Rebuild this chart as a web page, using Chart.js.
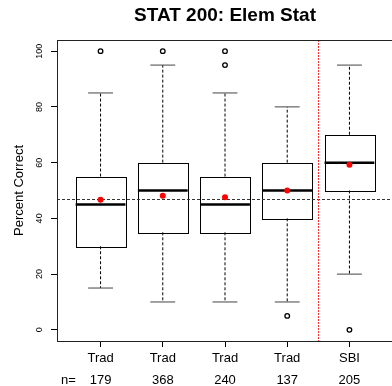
<!DOCTYPE html>
<html>
<head>
<meta charset="utf-8">
<script src="https://cdn.jsdelivr.net/npm/chart.js@4.4.1/dist/chart.umd.min.js"></script>
<style>
  html, body { margin: 0; padding: 0; background: #fff; overflow: hidden; }
  #wrap { width: 392px; height: 386px; overflow: hidden; }
</style>
</head>
<body>
<div id="wrap"><canvas id="chart" width="410" height="386"></canvas></div>
<script>
// data
const groups = ["Trad", "Trad", "Trad", "Trad", "SBI"];
const counts = [179, 368, 240, 137, 205];
const q1 = [30, 35, 35, 40, 50];
const medians = [45, 50, 45, 50, 60];
const q3 = [55, 60, 55, 60, 70];
const whiskLow = [15, 10, 10, 10, 20];
const whiskHigh = [85, 95, 85, 80, 95];
const means = [46.7, 48.1, 47.6, 50.0, 59.2];
const outlierGroup = [1, 2, 3, 3, 4, 5];
const outlierValue = [100, 100, 100, 95, 5, 0];
const yTicks = [0, 20, 40, 60, 80, 100];
const overallMean = 47;
const divider = 4.5;

const FONT = "'Liberation Sans', Arial, sans-serif";

// boxes, whiskers, reference lines
const boxPlugin = {
    id: "boxes",
    beforeDatasetsDraw(chart) {
        const ctx = chart.ctx;
        const xs = chart.scales.x;
        const ys = chart.scales.y;
        const area = chart.chartArea;
        ctx.save();
        for (let i = 0; i < groups.length; i++) {
            const c = i + 1;
            const xc = xs.getPixelForValue(c);
            const xl = xs.getPixelForValue(c - 0.4);
            const xr = xs.getPixelForValue(c + 0.4);
            const cl = xs.getPixelForValue(c - 0.2);
            const cr = xs.getPixelForValue(c + 0.2);
            // whiskers
            ctx.strokeStyle = "#000";
            ctx.lineWidth = 1;
            ctx.setLineDash([3, 2]);
            ctx.beginPath();
            ctx.moveTo(xc, ys.getPixelForValue(q3[i]));
            ctx.lineTo(xc, ys.getPixelForValue(whiskHigh[i]));
            ctx.moveTo(xc, ys.getPixelForValue(q1[i]));
            ctx.lineTo(xc, ys.getPixelForValue(whiskLow[i]));
            ctx.stroke();
            ctx.setLineDash([]);
            // caps
            ctx.strokeStyle = "#444";
            ctx.beginPath();
            ctx.moveTo(cl, ys.getPixelForValue(whiskHigh[i]));
            ctx.lineTo(cr, ys.getPixelForValue(whiskHigh[i]));
            ctx.moveTo(cl, ys.getPixelForValue(whiskLow[i]));
            ctx.lineTo(cr, ys.getPixelForValue(whiskLow[i]));
            ctx.stroke();
            // box
            ctx.strokeStyle = "#000";
            const yTop = ys.getPixelForValue(q3[i]);
            const yBot = ys.getPixelForValue(q1[i]);
            ctx.strokeRect(Math.round(xl) + 0.5, Math.round(yTop) + 0.5, Math.round(xr - xl), Math.round(yBot - yTop));
            // median
            ctx.lineWidth = 2.5;
            ctx.beginPath();
            ctx.moveTo(xl, ys.getPixelForValue(medians[i]));
            ctx.lineTo(xr, ys.getPixelForValue(medians[i]));
            ctx.stroke();
        }
        // overall mean line
        ctx.lineWidth = 1;
        ctx.strokeStyle = "#333";
        ctx.setLineDash([3, 2]);
        const ym = Math.round(ys.getPixelForValue(overallMean)) + 0.5;
        ctx.beginPath();
        ctx.moveTo(area.left, ym);
        ctx.lineTo(area.right, ym);
        ctx.stroke();
        // divider
        ctx.strokeStyle = "#ff3030";
        ctx.setLineDash([2, 1]);
        const xd = Math.round(xs.getPixelForValue(divider)) + 0.5;
        ctx.beginPath();
        ctx.moveTo(xd, area.top);
        ctx.lineTo(xd, area.bottom);
        ctx.stroke();
        ctx.restore();
    },
    afterDraw(chart) {
        const ctx = chart.ctx;
        const area = chart.chartArea;
        ctx.save();
        ctx.strokeStyle = "#222";
        ctx.lineWidth = 1;
        ctx.strokeRect(area.left + 0.5, area.top + 0.5, area.right - area.left, area.bottom - area.top);
        ctx.fillStyle = "#000";
        ctx.font = "13px " + FONT;
        ctx.textAlign = "left";
        ctx.textBaseline = "middle";
        ctx.fillText("n=", 61, 380);
        ctx.restore();
    }
};

const ctx = document.getElementById("chart");
const myChart = new Chart(ctx, {
    type: "scatter",
    data: {
        datasets: [
            {
                data: means.map((m, i) => ({ x: i + 1, y: m })),
                backgroundColor: "#ff0000",
                borderColor: "#ff0000",
                pointRadius: 3,
                borderWidth: 0
            },
            {
                data: outlierValue.map((v, i) => ({ x: outlierGroup[i], y: v })),
                backgroundColor: "rgba(0,0,0,0)",
                borderColor: "#000",
                pointRadius: 2.3,
                borderWidth: 1.3
            }
        ]
    },
    options: {
        responsive: false,
        animation: false,
        layout: { padding: { left: 0, right: 17, top: 0, bottom: 0 } },
        plugins: {
            legend: { display: false },
            tooltip: { enabled: false },
            title: {
                display: true,
                text: "STAT 200: Elem Stat",
                fullSize: false,
                color: "#000",
                font: { family: FONT, size: 19, weight: "bold" },
                padding: { top: 4, bottom: 13.2 }
            }
        },
        scales: {
            x: {
                type: "linear",
                min: 0.3,
                max: 5.7,
                afterBuildTicks: (s) => { s.ticks = groups.map((g, i) => ({ value: i + 1 })); },
                afterFit: (s) => { s.height = 45; },
                grid: { display: true, drawOnChartArea: false, drawTicks: true, tickLength: 6, color: "#000" },
                border: { display: true, color: "#000" },
                ticks: {
                    color: "#000",
                    padding: 0,
                    maxRotation: 0,
                    autoSkip: false,
                    font: { family: FONT, size: 13, lineHeight: 1.72 },
                    callback: (v) => [groups[v - 1], String(counts[v - 1])]
                }
            },
            y: {
                min: -4,
                max: 104,
                afterBuildTicks: (s) => { s.ticks = yTicks.map(v => ({ value: v })); },
                afterFit: (s) => { s.width = 57; },
                grid: { display: true, drawOnChartArea: false, drawTicks: true, tickLength: 6, color: "#000" },
                border: { display: true, color: "#000" },
                title: {
                    display: true,
                    text: "Percent Correct",
                    color: "#000",
                    font: { family: FONT, size: 13 },
                    padding: { top: 12, bottom: 0 }
                },
                ticks: {
                    color: "#000",
                    padding: 3.5,
                    minRotation: 90,
                    maxRotation: 90,
                    crossAlign: "center",
                    font: { family: FONT, size: 9 }
                }
            }
        }
    },
    plugins: [boxPlugin]
});
</script>
</body>
</html>
